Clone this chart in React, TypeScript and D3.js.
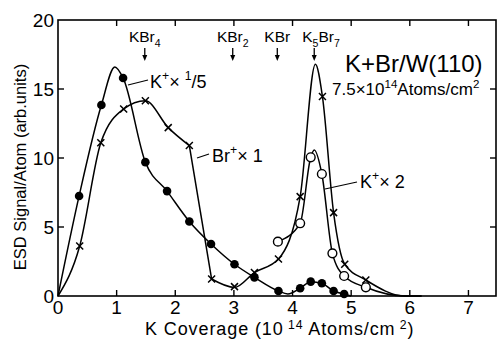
import React from 'react';
import * as d3 from 'd3';

const W = 497;
const H = 339;
const FONT = "'Liberation Sans', Arial, sans-serif";

// K+ x 1/5 (filled circles)
const kFifthMarks: [number, number][] = [
  [0.36, 7.25], [0.74, 13.84], [1.11, 15.8], [1.49, 9.7], [1.86, 7.6],
  [2.24, 5.4], [2.61, 3.77], [3.01, 2.3], [3.35, 1.35], [3.76, 0.36],
  [4.13, 0.56], [4.31, 1.04], [4.5, 0.92], [4.7, 0.36], [4.88, 0.14],
];
const kFifthLine: [number, number][] = [
  [0, 0], [0.36, 7.25], [0.74, 13.84], [0.97, 16.6], [1.11, 15.8], [1.49, 9.7],
  [1.86, 7.6], [2.24, 5.4], [2.61, 3.77], [3.01, 2.3], [3.35, 1.35], [3.76, 0.36],
  [3.92, 0.15], [4.13, 0.56], [4.31, 1.04], [4.5, 0.92], [4.7, 0.36], [4.88, 0.14], [5.0, 0],
];

// Br+ x 1 (crosses)
const brMarks: [number, number][] = [
  [0.37, 3.62], [0.73, 11.1], [1.12, 13.55], [1.49, 14.15], [1.88, 12.2], [2.24, 10.9],
  [2.62, 1.23], [3.01, 0.68], [3.35, 1.7], [3.76, 2.68], [4.13, 7.2], [4.51, 14.45],
  [4.7, 6.04], [4.89, 2.3], [5.25, 1.16],
];
const brLineA: [number, number][] = [
  [0, 0], [0.37, 3.62], [0.73, 11.1], [1.12, 13.55], [1.49, 14.15], [1.88, 12.2], [2.24, 10.9],
];
const brLineB: [number, number][] = [[2.24, 10.9], [2.62, 1.23]];
const brLineC: [number, number][] = [
  [2.62, 1.23], [3.01, 0.62], [3.35, 1.7], [3.76, 2.68], [4.13, 7.2], [4.39, 16.8],
  [4.51, 14.45], [4.7, 6.04], [4.89, 2.3], [5.25, 1.16], [5.92, 0], [6.2, 0],
];

// K+ x 2 (open circles)
const kTwoMarks: [number, number][] = [
  [3.75, 3.94], [4.13, 5.27], [4.31, 10.05], [4.5, 8.84], [4.68, 3.09], [4.88, 1.45], [5.25, 0.63],
];
const kTwoLine: [number, number][] = [
  [3.75, 3.94], [4.13, 5.27], [4.31, 10.05], [4.37, 10.58], [4.5, 8.84], [4.68, 3.09],
  [4.88, 1.45], [5.25, 0.63], [5.92, 0], [6.2, 0],
];

const xTicks = [0, 1, 2, 3, 4, 5, 6, 7];
const yTicks = [0, 5, 10, 15, 20];

// compound arrows along the top
const compoundX = [1.48, 2.98, 3.74, 4.37];
const compoundParts: [string, string][][] = [
  [['KBr', 'n'], ['4', 'sub']],
  [['KBr', 'n'], ['2', 'sub']],
  [['KBr', 'n']],
  [['K', 'n'], ['5', 'sub'], ['Br', 'n'], ['7', 'sub']],
];

function rich(sel: any, parts: [string, string][], size: number, supShift = 0.42) {
  let cur = 0;
  parts.forEach(([t, k]) => {
    const target = k === 'sub' ? size * 0.3 : k === 'sup' ? -size * supShift : 0;
    sel
      .append('tspan')
      .attr('dy', target - cur)
      .attr('font-size', k === 'n' ? size : size * 0.68)
      .text(t);
    cur = target;
  });
}

function App() {
  const svgRef = React.useRef<SVGSVGElement>(null);

  React.useEffect(() => {
    const svg = d3.select(svgRef.current);
    svg.selectAll('*').remove();

    const x = d3.scaleLinear().domain([0, 7.47]).range([58, 496]);
    const y = d3.scaleLinear().domain([0, 20]).range([296, 20]);

    const g = svg.append('g').attr('font-family', FONT).attr('fill', 'black');

    // frame
    g.append('rect')
      .attr('x', x(0)).attr('y', y(20))
      .attr('width', x(7.47) - x(0)).attr('height', y(0) - y(20))
      .attr('fill', 'none').attr('stroke', 'black').attr('stroke-width', 1.6);

    // ticks (inward on all sides)
    xTicks.slice(1).forEach((t) => {
      g.append('line').attr('x1', x(t)).attr('x2', x(t)).attr('y1', y(0)).attr('y2', y(0) - 6)
        .attr('stroke', 'black').attr('stroke-width', 1.4);
      g.append('line').attr('x1', x(t)).attr('x2', x(t)).attr('y1', y(20)).attr('y2', y(20) + 6)
        .attr('stroke', 'black').attr('stroke-width', 1.4);
    });
    yTicks.slice(1, 4).forEach((t) => {
      g.append('line').attr('x1', x(0)).attr('x2', x(0) + 6).attr('y1', y(t)).attr('y2', y(t))
        .attr('stroke', 'black').attr('stroke-width', 1.4);
      g.append('line').attr('x1', x(7.47)).attr('x2', x(7.47) - 6).attr('y1', y(t)).attr('y2', y(t))
        .attr('stroke', 'black').attr('stroke-width', 1.4);
    });

    // tick labels
    xTicks.forEach((t) => {
      g.append('text').attr('x', x(t)).attr('y', y(0) + 18).attr('text-anchor', 'middle')
        .attr('font-size', 19).text(t);
    });
    yTicks.forEach((t) => {
      g.append('text').attr('x', x(0) - 4).attr('y', y(t) + 7).attr('text-anchor', 'end')
        .attr('font-size', 19).text(t);
    });

    // axis titles
    const xt = g.append('text').attr('x', 145).attr('y', 335).attr('font-size', 18)
      .attr('letter-spacing', 0.9);
    rich(xt, [['K  Coverage (10', 'n'], [' 14', 'sup'], ['  Atoms/cm', 'n'], [' 2', 'sup'], [')', 'n']], 18, 0.33);

    g.append('text')
      .attr('transform', 'translate(26,167) rotate(-90)')
      .attr('text-anchor', 'middle').attr('font-size', 16.5)
      .text('ESD  Signal/Atom (arb.units)');

    // curves
    const line = d3.line<[number, number]>()
      .x((d) => x(d[0])).y((d) => y(d[1])).curve(d3.curveMonotoneX);
    const straight = d3.line<[number, number]>().x((d) => x(d[0])).y((d) => y(d[1]));

    [kFifthLine, brLineA, brLineC, kTwoLine].forEach((pts) => {
      g.append('path').attr('d', line(pts)).attr('fill', 'none')
        .attr('stroke', 'black').attr('stroke-width', 1.5);
    });
    g.append('path').attr('d', straight(brLineB)).attr('fill', 'none')
      .attr('stroke', 'black').attr('stroke-width', 1.5);

    // markers
    kFifthMarks.forEach((d) => {
      g.append('circle').attr('cx', x(d[0])).attr('cy', y(d[1])).attr('r', 4.3).attr('fill', 'black');
    });
    kTwoMarks.forEach((d) => {
      g.append('circle').attr('cx', x(d[0])).attr('cy', y(d[1])).attr('r', 4.4)
        .attr('fill', 'white').attr('stroke', 'black').attr('stroke-width', 1.4);
    });
    brMarks.forEach((d) => {
      const cx = x(d[0]);
      const cy = y(d[1]);
      g.append('path')
        .attr('d', `M${cx - 3.5},${cy - 3.5}L${cx + 3.5},${cy + 3.5}M${cx - 3.5},${cy + 3.5}L${cx + 3.5},${cy - 3.5}`)
        .attr('stroke', 'black').attr('stroke-width', 1.5);
    });

    // compound labels with arrows
    compoundX.forEach((c, i) => {
      const cx = x(c);
      const tx = i === 3 ? cx - 12 : cx;
      const t = g.append('text').attr('x', tx).attr('y', 42).attr('font-size', 15.5)
        .attr('text-anchor', i === 3 ? 'start' : 'middle');
      rich(t, compoundParts[i], 15.5);
      g.append('line').attr('x1', cx).attr('x2', cx).attr('y1', 48).attr('y2', 56)
        .attr('stroke', 'black').attr('stroke-width', 1.3);
      g.append('path').attr('d', `M${cx - 2.5},${55}L${cx + 2.5},${55}L${cx},${61}Z`).attr('fill', 'black');
    });

    // series labels
    g.append('line').attr('x1', 128).attr('y1', 85).attr('x2', 148).attr('y2', 80)
      .attr('stroke', 'black').attr('stroke-width', 1.2);
    const l1 = g.append('text').attr('x', 150).attr('y', 88).attr('font-size', 18);
    rich(l1, [['K', 'n'], ['+', 'sup'], ['× ', 'n'], ['1', 'sup'], ['/5', 'n']], 18);

    g.append('line').attr('x1', 197).attr('y1', 158).attr('x2', 209).attr('y2', 154)
      .attr('stroke', 'black').attr('stroke-width', 1.2);
    const l2 = g.append('text').attr('x', 212).attr('y', 162).attr('font-size', 18);
    rich(l2, [['Br', 'n'], ['+', 'sup'], ['× 1', 'n']], 18);

    g.append('line').attr('x1', 325).attr('y1', 189).attr('x2', 357).attr('y2', 182)
      .attr('stroke', 'black').attr('stroke-width', 1.2);
    const l3 = g.append('text').attr('x', 360).attr('y', 188).attr('font-size', 18);
    rich(l3, [['K', 'n'], ['+', 'sup'], ['× 2', 'n']], 18);

    // title
    g.append('text').attr('x', 345).attr('y', 72).attr('font-size', 24).text('K+Br/W(110)');
    const st = g.append('text').attr('x', 332).attr('y', 95).attr('font-size', 17);
    rich(st, [['7.5×10', 'n'], ['14', 'sup'], ['Atoms/cm', 'n'], ['2', 'sup']], 17);
  }, []);

  return (
    <svg
      ref={svgRef}
      width={W}
      height={H}
      style={{ position: 'absolute', left: 0, top: 0, background: 'white' }}
    ></svg>
  );
}

export default App;
